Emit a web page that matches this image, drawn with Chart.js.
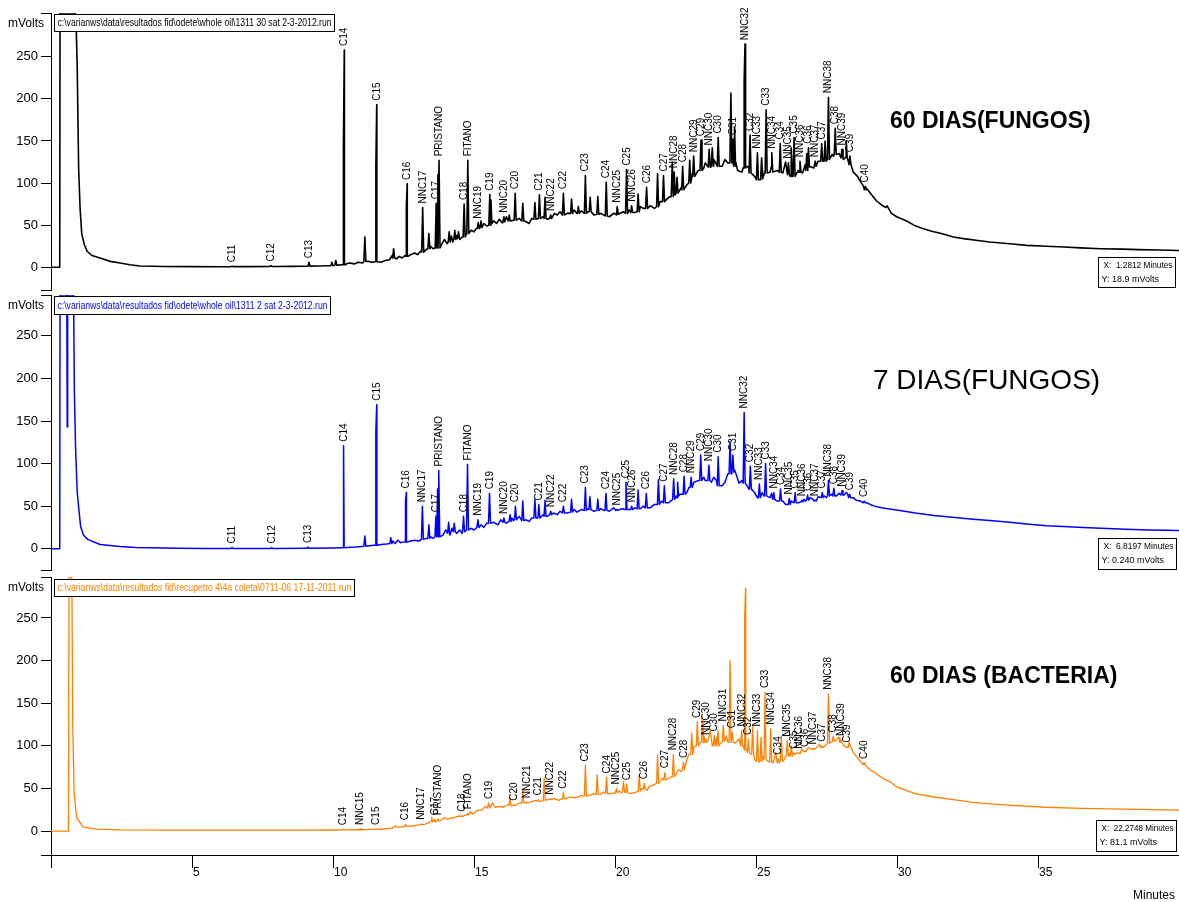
<!DOCTYPE html>
<html lang="pt-BR">
<head>
<meta charset="utf-8">
<title>Cromatogramas - biodegradação</title>
<script src="https://cdn.jsdelivr.net/npm/chart.js@4.4.1/dist/chart.umd.min.js"></script>
<style>
  body { margin: 0; background: #fff; }
  #painel { position: relative; width: 1179px; height: 902px; overflow: hidden; }
  #painel canvas { position: absolute; left: 0; }
</style>
</head>
<body>
<div id="painel">
  <canvas id="graf60f" width="1179" height="293" style="top:0px"></canvas>
  <canvas id="graf7f" width="1179" height="280" style="top:293px"></canvas>
  <canvas id="graf60b" width="1179" height="329" style="top:573px"></canvas>
</div>
<script>
// marcas dos eixos
const marcasX = [0, 5, 10, 15, 20, 25, 30, 35, 40];
const marcasY = [0, 50, 100, 150, 200, 250];

// ---- 60 dias (fungos) : [minutos, mVolts]
const traco60f = [
  [0, 0], [0.31, 0], [0.32, 302], [0.86, 302], [0.89, 290], [0.93, 237], [0.98, 118], [1.03, 71], [1.09, 40],
  [1.18, 27], [1.28, 19], [1.45, 14], [1.74, 11], [2.1, 7], [2.45, 5], [2.8, 3], [3.16, 1.5], [4, 1], [5, 0.8],
  [6, 0.7], [7, 0.8], [8, 1], [8.5, 1.1], [9, 1.2], [9.5, 1.5], [9.8, 1.8], [10.2, 2.5], [10.3, 3],
  [10.5, 4.5], [10.6, 5], [10.75, 4], [10.9, 6], [11.05, 5], [11.25, 7], [11.4, 6], [11.7, 6], [11.85, 8],
  [12.0, 9], [12.1, 14], [12.25, 10], [12.35, 13], [12.45, 11], [12.55, 14], [12.75, 15], [12.9, 17], [13.0, 15],
  [13.1, 19], [13.3, 21], [13.45, 25], [13.55, 22], [13.85, 27], [13.95, 33], [14.05, 28], [14.2, 37], [14.25, 30],
  [14.4, 38], [14.5, 33], [14.58, 36], [14.9, 44], [15.0, 42], [15.08, 46], [15.35, 52], [15.45, 49], [15.7, 55],
  [15.8, 52], [15.9, 57], [16.0, 53], [16.15, 60], [16.3, 55], [16.6, 58], [16.85, 54], [16.95, 52], [17.05, 58],
  [17.45, 60], [17.6, 57], [17.85, 64], [17.95, 62], [18.05, 66], [18.3, 64], [18.55, 68], [18.65, 64], [18.8, 67],
  [19.05, 66], [19.25, 62], [19.5, 64], [19.6, 62], [19.8, 60], [19.95, 64], [20.05, 62], [20.3, 66], [20.5, 68],
  [20.7, 65], [20.9, 72], [21.0, 70], [21.25, 73], [21.4, 70], [21.6, 78], [21.9, 83], [22.1, 90], [22.25, 88],
  [22.35, 95], [22.55, 98], [22.75, 112], [22.95, 115], [23.15, 118], [23.2, 124], [23.4, 120], [23.5, 128],
  [23.6, 122], [23.8, 120], [23.9, 128], [24.0, 124], [24.28, 125], [24.35, 115], [24.5, 113], [24.7, 120],
  [24.75, 118], [24.95, 108], [25.15, 104], [25.22, 115], [25.3, 112], [25.5, 113], [25.55, 120], [25.75, 115],
  [25.95, 112], [26.05, 125], [26.25, 108], [26.5, 115], [26.65, 112], [26.75, 122], [26.9, 120], [27.05, 118],
  [27.2, 126], [27.4, 128], [27.5, 126], [27.7, 134], [27.75, 132], [27.95, 135], [28.1, 128], [28.2, 132],
  [28.28, 125], [28.45, 113], [28.6, 108], [28.68, 103], [28.8, 97], [28.94, 93], [29.1, 86], [29.27, 79],
  [29.45, 74], [29.6, 71], [29.65, 73], [29.8, 64], [29.99, 60], [30.2, 57], [30.39, 54], [30.6, 50], [30.91, 46],
  [31.2, 43], [31.57, 40], [32, 36], [32.36, 34], [32.8, 32], [33.28, 30], [34, 28], [34.6, 26], [35.3, 25],
  [35.92, 24], [36.5, 23], [37.23, 22], [38, 21.5], [38.55, 21], [39.3, 20.5], [40, 20]
];
// picos identificados : [nome, minutos, topo, base]
const picos60f = [
  ['C11', 6.42, 1.2, 0.8], ['C12', 7.8, 2, 1], ['C13', 9.15, 6, 1.3], ['C14', 10.4, 258, 3], ['C15', 11.55, 193, 6.5],
  ['C16', 12.63, 99, 13], ['NNC17', 13.18, 71, 18], ['C17', 13.66, 76, 23], ['PRISTANO', 13.76, 127, 23],
  ['C18', 14.65, 75, 36], ['FITANO', 14.78, 127, 40], ['NNC19', 15.15, 53, 46], ['C19', 15.56, 86, 50],
  ['NNC20', 16.06, 60, 54], ['C20', 16.46, 88, 56], ['C21', 17.32, 86, 58], ['NNC22', 17.72, 62, 58],
  ['C22', 18.17, 88, 62], ['C23', 18.95, 109, 64], ['C24', 19.69, 101, 61], ['NNC25', 20.08, 72, 63],
  ['C25', 20.41, 116, 64], ['NNC26', 20.59, 73, 65], ['C26', 21.12, 95, 70], ['C27', 21.72, 109, 78],
  ['NNC28', 22.1, 113, 86], ['C28', 22.4, 120, 92], ['NNC29', 22.79, 132, 108], ['C29', 23.05, 151, 115],
  ['NNC30', 23.34, 140, 119], ['C30', 23.66, 154, 120], ['C31', 24.19, 152, 124], ['NNC32', 24.61, 265, 118],
  ['C32', 24.79, 157, 112], ['NNC33', 25.05, 136, 104], ['C33', 25.36, 187, 112], ['NNC34', 25.56, 136, 113],
  ['C34', 25.86, 147, 113], ['NNC35', 26.15, 124, 110], ['C35', 26.35, 154, 108], ['NNC36', 26.56, 126, 113],
  ['C36', 26.86, 142, 119], ['NNC37', 27.1, 126, 120], ['C37', 27.33, 147, 126], ['NNC38', 27.57, 202, 128],
  ['C38', 27.81, 165, 134], ['NNC39', 28.05, 140, 130], ['C39', 28.33, 132, 122], ['C40', 28.88, 96, 92]
];
// picos sem nome : [minutos, topo, base]
const extras60f = [
  [9.96, 6, 2], [10.1, 8, 2.5], [10.37, 148, 3], [11.13, 36, 7], [11.52, 120, 6.5], [12.15, 22, 11], [12.6, 71, 13],
  [13.4, 40, 22], [13.72, 110, 23], [14.12, 42, 30], [14.32, 44, 33], [14.45, 42, 34], [15.25, 55, 47], [15.6, 80, 52],
  [16.25, 62, 55], [16.73, 76, 55], [17.16, 77, 57], [17.52, 83, 58], [18.46, 81, 64], [18.7, 72, 64], [19.12, 83, 66],
  [19.39, 84, 63], [20.82, 87, 66], [21.51, 111, 72], [22.03, 125, 84], [22.2, 107, 88], [22.65, 127, 100],
  [23.45, 142, 120], [24.11, 207, 124], [24.24, 166, 120], [24.58, 223, 118], [25.2, 130, 105], [26.25, 142, 108],
  [26.8, 135, 115], [27.45, 150, 126], [28.2, 150, 130]
];

// ---- 7 dias (fungos)
const traco7f = [
  [0, 0], [0.31, 0], [0.32, 298], [0.56, 298], [0.575, 143], [0.59, 298], [0.8, 298], [0.83, 183], [0.87, 120],
  [0.93, 66], [1.05, 26], [1.15, 16], [1.3, 11], [1.74, 5], [2.45, 2.5], [3, 1.5], [3.5, 1], [4.5, 0.5], [5.5, 0.3],
  [6.8, 0.24], [8, 0.3], [9, 0.5], [10, 0.8], [10.3, 1],
  [10.5, 1.5], [10.8, 2], [11.0, 2.5], [11.3, 3.5], [11.45, 4], [11.7, 5], [11.9, 5.5], [12.12, 9], [12.2, 6],
  [12.3, 10], [12.4, 7], [12.5, 8], [12.75, 9], [12.9, 10], [13.05, 9], [13.3, 12], [13.47, 14], [13.55, 12],
  [13.9, 16], [14.0, 22], [14.15, 16], [14.22, 24], [14.38, 18], [14.5, 22], [14.57, 18], [14.9, 24], [15.0, 22],
  [15.25, 28], [15.35, 25], [15.45, 30], [15.7, 31], [15.85, 28], [15.95, 34], [16.15, 30], [16.35, 36], [16.4, 33],
  [16.6, 38], [16.85, 34], [16.95, 32], [17.05, 36], [17.45, 40], [17.6, 38], [17.82, 42], [17.95, 40], [18.05, 44],
  [18.3, 42], [18.55, 46], [18.65, 43], [18.8, 46], [19.02, 47], [19.25, 44], [19.5, 47], [19.6, 45], [19.8, 44],
  [19.95, 48], [20.15, 46], [20.3, 47], [20.5, 46], [20.7, 48], [20.9, 47], [21.0, 50], [21.25, 48], [21.4, 52],
  [21.65, 56], [21.9, 54], [22.2, 60], [22.3, 64], [22.55, 66], [22.62, 72], [22.8, 78], [22.95, 80], [23.15, 84],
  [23.2, 80], [23.42, 78], [23.5, 84], [23.6, 80], [23.8, 74], [23.9, 78], [24.0, 88], [24.25, 92], [24.4, 77],
  [24.5, 80], [24.7, 73], [24.75, 70], [24.95, 66], [25.05, 60], [25.22, 66], [25.28, 62], [25.5, 60], [25.55, 65],
  [25.75, 56], [25.95, 56], [26.05, 52], [26.25, 56], [26.5, 54], [26.7, 58], [26.75, 56], [26.92, 60], [27.02, 58],
  [27.2, 61], [27.42, 62], [27.5, 60], [27.68, 64], [27.85, 62], [27.95, 65], [28.12, 63], [28.2, 66], [28.25, 64],
  [28.45, 60], [28.55, 57], [28.7, 56], [28.92, 54], [29.05, 52], [29.2, 50], [29.45, 48], [29.67, 47], [30.1, 45],
  [30.65, 42], [31.3, 39], [31.97, 37], [32.6, 35], [33.28, 33], [34, 31], [34.6, 29], [35.3, 27], [35.91, 26],
  [36.6, 25], [37.23, 24], [38.1, 23], [38.94, 22], [40, 21.5]
];
const picos7f = [
  ['C11', 6.42, 1.5, 0.3], ['C12', 7.83, 1.3, 0.3], ['C13', 9.12, 2, 0.5], ['C14', 10.39, 121, 1], ['C15', 11.55, 169, 4],
  ['C16', 12.6, 66, 8], ['NNC17', 13.17, 50, 11], ['C17', 13.65, 38, 14], ['PRISTANO', 13.75, 92, 14],
  ['C18', 14.63, 38, 20], ['FITANO', 14.77, 99, 22], ['NNC19', 15.14, 34, 25], ['C19', 15.55, 65, 30],
  ['NNC20', 16.06, 36, 31], ['C20', 16.47, 50, 34], ['C21', 17.3, 52, 36], ['NNC22', 17.72, 44, 40],
  ['C22', 18.17, 50, 42], ['C23', 18.95, 72, 45], ['C24', 19.68, 65, 45], ['NNC25', 20.06, 46, 45],
  ['C25', 20.39, 78, 46], ['NNC26', 20.59, 50, 46], ['C26', 21.11, 65, 48], ['C27', 21.75, 74, 54],
  ['NNC28', 22.08, 82, 58], ['C28', 22.45, 85, 64], ['NNC29', 22.7, 84, 72], ['C29', 23.04, 110, 80],
  ['NNC30', 23.33, 98, 80], ['C30', 23.66, 108, 74], ['C31', 24.18, 110, 90], ['NNC32', 24.58, 160, 77],
  ['C32', 24.8, 97, 70], ['NNC33', 25.12, 76, 60], ['C33', 25.34, 100, 62], ['NNC34', 25.63, 66, 58],
  ['C34', 25.87, 70, 56], ['NNC35', 26.18, 59, 52], ['C35', 26.39, 66, 54], ['NNC36', 26.63, 57, 55],
  ['C36', 26.83, 63, 57], ['NNC37', 27.1, 57, 56], ['C37', 27.35, 66, 60], ['NNC38', 27.57, 80, 62],
  ['C38', 27.76, 71, 62], ['NNC39', 28.05, 68, 63], ['C39', 28.32, 64, 60], ['C40', 28.84, 56, 54]
];
const extras7f = [
  [10.36, 111, 1], [11.13, 15, 3], [11.52, 138, 4], [12.05, 13, 6], [12.57, 56, 8], [13.4, 28, 12], [13.71, 70, 14],
  [14.1, 31, 18], [14.3, 30, 20], [16.28, 40, 32], [16.73, 56, 33], [17.16, 58, 36], [17.52, 57, 38], [18.46, 58, 43],
  [19.11, 61, 46], [19.39, 58, 45], [20.82, 69, 47], [21.54, 81, 52], [22.22, 78, 62], [24.08, 126, 88]
];

// ---- 60 dias (bactéria)
const traco60b = [
  [0, 0], [0.62, 0], [0.64, 298], [0.74, 298], [0.77, 127], [0.82, 45], [0.91, 16], [1.13, 5], [1.62, 2.4],
  [2.5, 1.5], [4, 1.2], [6, 1.2], [8, 1.2], [9, 1.2], [10, 1.3], [10.5, 1.5], [10.85, 1.6], [11.1, 1.8],
  [11.3, 2], [11.7, 2.2], [11.9, 3], [12.1, 3.5], [12.2, 6], [12.3, 4.5], [12.45, 5], [12.65, 5.5], [12.8, 6],
  [13.0, 7], [13.25, 8], [13.4, 10], [13.5, 13], [13.85, 13], [13.95, 16], [14.05, 14], [14.3, 16], [14.5, 18],
  [14.68, 19], [14.87, 23], [14.95, 20], [15.1, 24], [15.3, 25], [15.4, 29], [15.47, 27], [15.65, 33], [15.75, 28],
  [15.9, 29], [16.05, 28], [16.2, 31], [16.35, 30], [16.6, 33], [16.8, 34], [17.05, 35], [17.2, 36], [17.4, 35],
  [17.6, 37], [17.85, 38], [18.0, 36], [18.25, 38], [18.4, 40], [18.6, 39], [18.8, 42], [19.1, 42], [19.25, 44],
  [19.5, 43], [19.6, 46], [19.85, 44], [20.15, 47], [20.22, 45], [20.5, 44], [20.7, 45], [20.95, 50], [21.15, 48],
  [21.2, 52], [21.35, 54], [21.6, 58], [21.7, 62], [21.9, 62], [22.15, 66], [22.25, 72], [22.35, 70], [22.55, 84],
  [22.62, 90], [22.8, 99], [23.02, 104], [23.15, 112], [23.3, 106], [23.38, 118], [23.45, 100], [23.6, 110],
  [23.72, 102], [23.95, 112], [24.0, 105], [24.25, 103], [24.4, 108], [24.55, 100], [24.8, 91], [24.85, 95],
  [24.95, 84], [25.1, 81], [25.25, 88], [25.42, 82], [25.6, 80], [25.7, 92], [25.97, 82], [26.05, 88], [26.2, 91],
  [26.45, 92], [26.62, 96], [26.85, 98], [27.15, 98], [27.25, 102], [27.45, 100], [27.65, 104], [27.85, 107],
  [27.95, 110], [28.1, 101], [28.3, 104], [28.44, 93], [28.6, 86], [28.75, 80], [29.04, 72], [29.2, 69],
  [29.4, 64], [29.55, 61], [29.75, 58], [29.99, 52], [30.3, 48], [30.65, 44], [31.31, 40], [32, 37], [32.62, 34],
  [33.3, 32], [33.94, 30.5], [35.26, 28], [36.57, 26.6], [37.5, 26], [38.55, 25.5], [40, 24.6]
];
const picos60b = [
  ['C14', 10.37, 2.3, 1.4], ['NNC15', 10.96, 2.5, 1.6], ['C15', 11.54, 2.6, 2.1], ['C16', 12.57, 8, 5.5],
  ['NNC17', 13.13, 8.5, 7.5], ['C17', 13.6, 14, 11], ['PRISTANO', 13.72, 14, 12], ['C18', 14.58, 18, 17],
  ['FITANO', 14.78, 21, 19], ['C19', 15.52, 33, 27], ['C20', 16.43, 31, 30], ['NNC21', 16.88, 34, 33],
  ['C21', 17.28, 37, 35], ['NNC22', 17.7, 38, 37], ['C22', 18.17, 45, 38], ['C23', 18.95, 77, 41],
  ['C24', 19.7, 63, 44], ['NNC25', 20.05, 50, 45], ['C25', 20.41, 55, 45], ['C26', 21.04, 56, 49],
  ['C27', 21.77, 69, 60], ['NNC28', 22.07, 90, 64], ['C28', 22.43, 81, 72], ['C29', 22.92, 128, 100],
  ['NNC30', 23.22, 108, 104], ['C30', 23.52, 112, 100], ['NNC31', 23.84, 124, 105], ['C31', 24.16, 116, 104],
  ['NNC32', 24.49, 118, 100], ['C32', 24.73, 108, 92], ['NNC33', 25.05, 118, 82], ['C33', 25.32, 163, 84],
  ['NNC34', 25.52, 120, 81], ['C34', 25.79, 85, 80], ['NNC35', 26.11, 106, 88], ['C35', 26.33, 92, 90],
  ['NNC36', 26.54, 92, 91], ['C36', 26.74, 94, 93], ['NNC37', 27.03, 97, 96], ['C37', 27.33, 100, 98],
  ['NNC38', 27.57, 161, 103], ['C38', 27.74, 111, 105], ['NNC39', 28.01, 107, 104], ['C39', 28.24, 99, 98],
  ['C40', 28.83, 80, 78]
];
const extras60b = [
  [11.0, 3, 1.6], [13.5, 16, 11], [16.28, 39, 30], [16.73, 48, 33], [17.49, 62, 36], [19.37, 66, 43], [20.3, 58, 46],
  [20.86, 66, 47], [21.51, 89, 56], [22.72, 115, 90], [23.1, 134, 104], [23.65, 118, 100], [24.08, 200, 104],
  [24.6, 252, 98], [24.63, 285, 95], [24.88, 123, 90], [25.18, 110, 82], [25.9, 111, 82], [26.25, 100, 88]
];

const fonte = "'Liberation Sans', Arial, Helvetica, sans-serif";

// junta linha de base e picos numa serie so, ordenada pelo tempo
function montaPontos(traco, picos, extras) {
  const meia = 0.035;
  const pts = traco.map(([t, v]) => ({ x: t, y: v }));
  const pico = (t, topo, base) => {
    pts.push({ x: t - meia, y: base }, { x: t, y: topo }, { x: t + meia, y: base });
  };
  picos.forEach(([nome, t, topo, base]) => pico(t, topo, base));
  extras.forEach(([t, topo, base]) => pico(t, topo, base));
  return pts.sort((a, b) => a.x - b.x);
}

// nomes dos picos, titulo, caixas de texto
const decoracao = {
  id: 'decoracao',
  afterDatasetsDraw(chart, args, opts) {
    const { ctx, scales: { x, y } } = chart;
    ctx.save();
    ctx.fillStyle = '#000';
    ctx.font = `10px ${fonte}`;
    ctx.textAlign = 'left';
    ctx.textBaseline = 'middle';
    opts.picos.forEach(([nome, t, topo]) => {
      ctx.save();
      ctx.translate(Math.round(x.getPixelForValue(t)) + 0.5, y.getPixelForValue(topo) - 4);
      ctx.rotate(-Math.PI / 2);
      ctx.fillText(nome, 0, 0);
      ctx.restore();
    });
    ctx.restore();
  },
  afterDraw(chart, args, opts) {
    const ctx = chart.ctx;
    ctx.save();
    ctx.fillStyle = '#000';
    ctx.strokeStyle = '#000';
    ctx.lineWidth = 1;
    ctx.textBaseline = 'middle';

    ctx.font = `12px ${fonte}`;
    ctx.textAlign = 'right';
    ctx.fillText('mVolts', 44, opts.unidadeY);

    const a = opts.arquivo;
    ctx.fillStyle = '#fff';
    ctx.fillRect(a.x, a.y, a.w, a.h);
    ctx.strokeRect(a.x, a.y, a.w, a.h);
    ctx.font = `10px ${fonte}`;
    ctx.textAlign = 'left';
    ctx.fillStyle = opts.cor;
    ctx.fillText(a.texto, a.x + 3, a.y + a.h / 2 + 0.5, a.w - 6);

    const c = opts.cursor;
    ctx.strokeRect(c.x, c.y, c.w, c.h);
    ctx.font = `9px ${fonte}`;
    ctx.fillStyle = '#000';
    ctx.fillText(c.linhas[0], c.x + 5, c.y + 8, c.w - 8);
    ctx.fillText(c.linhas[1], c.x + 3, c.y + 22, c.w - 8);

    const t = opts.titulo;
    ctx.font = t.fonte;
    ctx.fillText(t.texto, t.x, t.y, t.w);

    if (opts.rodape) {
      ctx.font = `12px ${fonte}`;
      ctx.textAlign = 'right';
      ctx.fillText('Minutes', 1175, opts.rodape);
    }
    ctx.restore();
  }
};

function criaGrafico(id, cfg) {
  const graph = document.getElementById(id);
  return new Chart(graph, {
    type: 'line',
    data: {
      datasets: [{
        data: montaPontos(cfg.traco, cfg.picos, cfg.extras),
        borderColor: cfg.cor,
        borderWidth: cfg.espessura,
        borderJoinStyle: 'round',
        pointRadius: 0,
        tension: 0,
        fill: false
      }]
    },
    options: {
      responsive: false,
      animation: false,
      devicePixelRatio: 1,
      events: [],
      layout: { padding: { top: cfg.topo, bottom: cfg.fundo, left: 0, right: 0 } },
      plugins: {
        legend: { display: false },
        tooltip: { enabled: false },
        decoracao: {
          picos: cfg.picos, cor: cfg.cor, unidadeY: cfg.unidadeY,
          arquivo: cfg.arquivo, cursor: cfg.cursor, titulo: cfg.titulo, rodape: cfg.rodape
        }
      },
      scales: {
        x: {
          type: 'linear',
          min: 0,
          max: 40,
          display: cfg.eixoX,
          afterBuildTicks: s => { s.ticks = marcasX.map(v => ({ value: v })); },
          afterFit: s => {
            if (cfg.eixoX) s.height = 47;
            s.paddingLeft = 0;
            s.paddingRight = 0;
          },
          ticks: {
            align: 'start',
            labelOffset: 1,
            padding: -3,
            maxRotation: 0,
            autoSkip: false,
            color: '#000',
            font: { family: fonte, size: 12 },
            callback: v => (v === 0 || v === 40) ? '' : v
          },
          grid: { drawOnChartArea: false, drawTicks: true, tickLength: 13, color: '#000' },
          border: { display: true, color: '#000' }
        },
        y: {
          min: cfg.yMin,
          max: cfg.yMax,
          afterBuildTicks: s => { s.ticks = [cfg.yMin, ...marcasY, cfg.yMax].map(v => ({ value: v })); },
          afterFit: s => { s.width = 51; s.paddingTop = 0; s.paddingBottom = 0; },
          ticks: {
            padding: 3,
            color: '#000',
            font: { family: fonte, size: 13 },
            callback: v => marcasY.includes(v) ? v : ''
          },
          grid: { drawOnChartArea: false, drawTicks: true, tickLength: 10, color: '#000' },
          border: { display: true, color: '#000' }
        }
      }
    },
    plugins: [decoracao]
  });
}

criaGrafico('graf60f', {
  traco: traco60f, picos: picos60f, extras: extras60f,
  cor: '#000000', espessura: 1.6, yMin: -27, yMax: 302, topo: 13, fundo: 3, eixoX: false, unidadeY: 24,
  arquivo: { x: 54.5, y: 14.5, w: 280, h: 17, texto: 'c:\\varianws\\data\\resultados fid\\odete\\whole oil\\1311 30 sat 2-3-2012.run' },
  cursor: { x: 1098.5, y: 257.5, w: 77, h: 30, linhas: ['X:  1.2812 Minutes', 'Y: 18.9 mVolts'] },
  titulo: { texto: '60 DIAS(FUNGOS)', fonte: `bold 23px ${fonte}`, x: 890, y: 122, w: 201 }
});

criaGrafico('graf7f', {
  traco: traco7f, picos: picos7f, extras: extras7f,
  cor: '#0000ff', espessura: 1.5, yMin: -25, yMax: 298, topo: 2, fundo: 3, eixoX: false, unidadeY: 13,
  arquivo: { x: 54.5, y: 3.5, w: 276, h: 18, texto: 'c:\\varianws\\data\\resultados fid\\odete\\whole oil\\1311 2 sat 2-3-2012.run' },
  cursor: { x: 1098.5, y: 245.5, w: 78, h: 31, linhas: ['X:  6.8197 Minutes', 'Y: 0.240 mVolts'] },
  titulo: { texto: '7 DIAS(FUNGOS)', fonte: `28px ${fonte}`, x: 873, y: 88, w: 235 }
});

criaGrafico('graf60b', {
  traco: traco60b, picos: picos60b, extras: extras60b,
  cor: '#ff8000', espessura: 1.3, yMin: -28, yMax: 298, topo: 4, fundo: 0, eixoX: true, unidadeY: 15,
  arquivo: { x: 54.5, y: 6.5, w: 300, h: 17, texto: 'c:\\varianws\\data\\resultados fid\\recupetro 4\\4a coleta\\0711-06 17-11-2011.run' },
  cursor: { x: 1096.5, y: 247.5, w: 80, h: 31, linhas: ['X:  22.2748 Minutes', 'Y: 81.1 mVolts'] },
  titulo: { texto: '60 DIAS (BACTERIA)', fonte: `bold 23px ${fonte}`, x: 890, y: 104, w: 230 },
  rodape: 323
});
</script>
</body>
</html>
